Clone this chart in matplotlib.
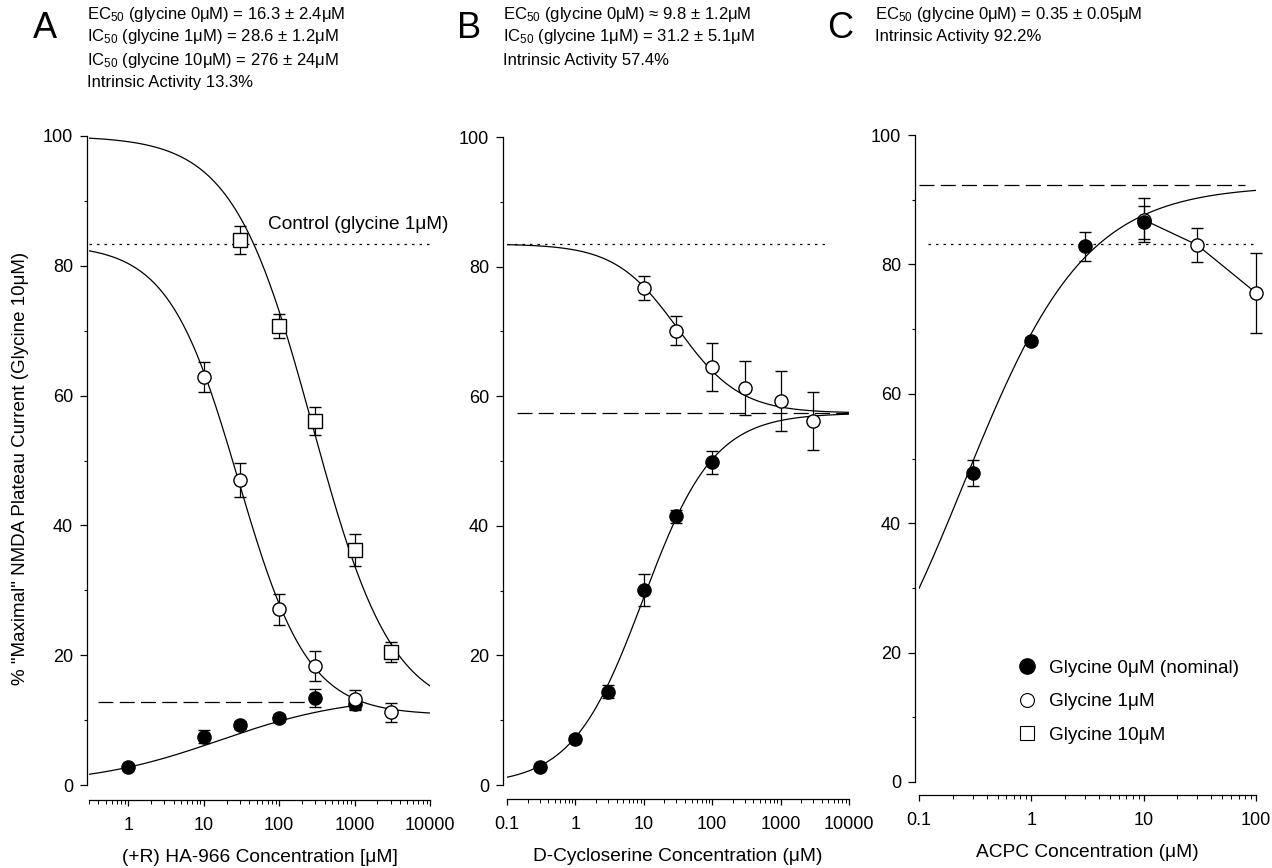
import numpy as np
import matplotlib
matplotlib.use("Agg")
import matplotlib.pyplot as plt
from matplotlib.lines import Line2D
from matplotlib.ticker import FixedLocator, FuncFormatter, LogLocator, NullFormatter, MultipleLocator

plt.rcParams['font.family'] = ['Liberation Sans', 'DejaVu Sans']
plt.rcParams['mathtext.default'] = 'regular'

# ---------------- data ----------------
# Panel A : (+R) HA-966
A_x_gly0 = [1, 10, 30, 100, 300, 1000]
A_y_gly0 = [2.8, 7.4, 9.2, 10.3, 13.4, 12.5]
A_e_gly0 = [0.4, 1.0, 0.6, 0.6, 1.4, 1.0]
A_x_gly1 = [10, 30, 100, 300, 1000, 3000]
A_y_gly1 = [62.9, 47.0, 27.1, 18.4, 13.2, 11.2]
A_e_gly1 = [2.3, 2.6, 2.4, 2.3, 1.5, 1.5]
A_x_gly10 = [30, 100, 300, 1000, 3000]
A_y_gly10 = [84.0, 70.7, 56.1, 36.2, 20.5]
A_e_gly10 = [2.2, 1.9, 2.1, 2.5, 1.5]
# fitted logistic curves: (value at low conc, value at high conc, EC/IC50, hill, xmin, xmax)
A_fit_gly0 = (0.0, 13.8, 16.3, 0.5, 0.3, 1000)
A_fit_gly1 = (83.3, 10.8, 28.6, 0.94, 0.3, 10000)
A_fit_gly10 = (100.0, 10.8, 276, 0.82, 0.3, 10000)
A_control = 83.3
A_intrinsic = 12.8

# Panel B : D-Cycloserine
B_x_gly0 = [0.3, 1, 3, 10, 30, 100]
B_y_gly0 = [2.8, 7.1, 14.4, 30.1, 41.5, 49.8]
B_e_gly0 = [0.5, 0.5, 1.0, 2.5, 1.0, 1.8]
B_x_gly1 = [10, 30, 100, 300, 1000, 3000]
B_y_gly1 = [76.7, 70.1, 64.5, 61.3, 59.3, 56.2]
B_e_gly1 = [1.8, 2.2, 3.7, 4.2, 4.6, 4.5]
B_fit_gly0 = (0.0, 57.4, 9.8, 0.84, 0.1, 10000)
B_fit_gly1 = (83.5, 57.4, 31.2, 0.95, 0.1, 10000)
B_control = 83.5
B_intrinsic = 57.4

# Panel C : ACPC
C_x_gly0 = [0.3, 1, 3, 10]
C_y_gly0 = [47.8, 68.2, 82.8, 86.5]
C_e_gly0 = [2.0, 0.6, 2.2, 2.6]
C_x_gly1 = [10, 30, 100]
C_y_gly1 = [86.9, 83.0, 75.6]
C_e_gly1 = [3.4, 2.7, 6.2]
C_fit_gly0 = (0.0, 92.2, 0.25, 0.8, 0.1, 100)
C_control = 83.2
C_intrinsic = 92.2

A_xticks = [1, 10, 100, 1000, 10000]
B_xticks = [0.1, 1, 10, 100, 1000, 10000]
C_xticks = [0.1, 1, 10, 100]
yticks = [0, 20, 40, 60, 80, 100]

legend_labels = ["Glycine 0\u03bcM (nominal)", "Glycine 1\u03bcM", "Glycine 10\u03bcM"]

A_header = ["EC$_{50}$ (glycine 0\u03bcM) = 16.3 \u00b1 2.4\u03bcM",
            "IC$_{50}$ (glycine 1\u03bcM) = 28.6 \u00b1 1.2\u03bcM",
            "IC$_{50}$ (glycine 10\u03bcM) = 276 \u00b1 24\u03bcM",
            "Intrinsic Activity 13.3%"]
B_header = ["EC$_{50}$ (glycine 0\u03bcM) \u2248 9.8 \u00b1 1.2\u03bcM",
            "IC$_{50}$ (glycine 1\u03bcM) = 31.2 \u00b1 5.1\u03bcM",
            "Intrinsic Activity 57.4%"]
C_header = ["EC$_{50}$ (glycine 0\u03bcM) = 0.35 \u00b1 0.05\u03bcM",
            "Intrinsic Activity 92.2%"]

# ---------------- figure ----------------
W, H = 1272, 868
fig = plt.figure(figsize=(W / 100, H / 100), dpi=100)

def px_axes(l, r, t, b):
    return fig.add_axes([l / W, (H - b) / H, (r - l) / W, (b - t) / H])

LW = 0.9
MS = 9.5
CAP = 4.3
XLFS = 13.8

def hill(p):
    a, d, c, n, x0, x1 = p
    x = np.logspace(np.log10(x0), np.log10(x1), 300)
    return x, d + (a - d) / (1 + (x / c) ** n)

def eb(ax, x, y, e, marker, fc, line=False):
    ax.errorbar(x, y, yerr=e, fmt=marker, ms=MS, mfc=fc, mec='black', mew=1.0,
                ecolor='black', elinewidth=LW, capsize=CAP, capthick=LW,
                ls='-' if line else 'none', color='black', lw=LW, zorder=3, clip_on=False)

def style(ax, xlim, xticks, yoff, boff):
    ax.set_xscale('log')
    ax.set_xlim(*xlim)
    ax.set_ylim(0, 100)
    for s in ['top', 'right']:
        ax.spines[s].set_visible(False)
    ax.spines['left'].set_position(('outward', yoff))
    ax.spines['bottom'].set_position(('outward', boff))
    for s in ['left', 'bottom']:
        ax.spines[s].set_linewidth(0.9)
    ax.xaxis.set_major_locator(FixedLocator(xticks))
    ax.xaxis.set_major_formatter(FuncFormatter(lambda v, p: '{:g}'.format(v)))
    ax.xaxis.set_minor_locator(LogLocator(base=10, subs=np.arange(2, 10), numticks=20))
    ax.xaxis.set_minor_formatter(NullFormatter())
    ax.yaxis.set_major_locator(FixedLocator(yticks))
    ax.yaxis.set_minor_locator(MultipleLocator(10))
    ax.tick_params(axis='y', which='major', direction='out', length=5, width=0.9, labelsize=13, pad=5)
    ax.tick_params(axis='y', which='minor', direction='out', length=2.5, width=0.8)
    ax.tick_params(axis='x', which='major', direction='out', length=4, width=0.9, labelsize=13, pad=8)
    ax.tick_params(axis='x', which='minor', direction='out', length=3, width=0.7)

# Panel A
axA = px_axes(89, 430, 136, 785)
style(axA, (0.3, 10000), A_xticks, 1.5, 10.8)
for p in (A_fit_gly0, A_fit_gly1, A_fit_gly10):
    xx, yy = hill(p)
    axA.plot(xx, yy, color='black', lw=LW, zorder=2)
axA.plot([0.3, 10000], [A_control, A_control], color='black', lw=LW, ls=(0, (2, 4)), zorder=1)
axA.plot([0.4, 300], [A_intrinsic, A_intrinsic], color='black', lw=LW, ls=(0, (12, 5)), zorder=1)
eb(axA, A_x_gly0, A_y_gly0, A_e_gly0, 'o', 'black')
eb(axA, A_x_gly1, A_y_gly1, A_e_gly1, 'o', 'white')
eb(axA, A_x_gly10, A_y_gly10, A_e_gly10, 's', 'white')
axA.text(71, 85.0, "Control (glycine 1\u03bcM)", fontsize=13.7, ha='left', va='bottom')
axA.set_xlabel("(+R) HA-966 Concentration [\u03bcM]", fontsize=XLFS, labelpad=11)
axA.set_ylabel('% "Maximal" NMDA Plateau Current (Glycine 10\u03bcM)', fontsize=13.5)
axA.yaxis.set_label_coords(-0.176, 0.488)

# Panel B
axB = px_axes(507, 849, 137, 785)
style(axB, (0.1, 10000), B_xticks, 3, 10)
for p in (B_fit_gly0, B_fit_gly1):
    xx, yy = hill(p)
    axB.plot(xx, yy, color='black', lw=LW, zorder=2)
axB.plot([0.1, 5000], [B_control, B_control], color='black', lw=LW, ls=(0, (2, 4)), zorder=1)
axB.plot([0.14, 10000], [B_intrinsic, B_intrinsic], color='black', lw=LW, ls=(0, (12, 5)), zorder=1)
eb(axB, B_x_gly0, B_y_gly0, B_e_gly0, 'o', 'black')
eb(axB, B_x_gly1, B_y_gly1, B_e_gly1, 'o', 'white')
axB.set_xlabel("D-Cycloserine Concentration (\u03bcM)", fontsize=XLFS, labelpad=11)

# Panel C
axC = px_axes(919, 1256, 135, 782)
style(axC, (0.1, 100), C_xticks, 3, 9.4)
xx, yy = hill(C_fit_gly0)
axC.plot(xx, yy, color='black', lw=LW, zorder=2)
axC.plot([0.1, 80], [C_intrinsic, C_intrinsic], color='black', lw=LW, ls=(0, (12, 5)), zorder=1)
axC.plot([0.12, 95], [C_control, C_control], color='black', lw=LW, ls=(0, (2, 4)), zorder=1)
eb(axC, C_x_gly1, C_y_gly1, C_e_gly1, 'o', 'white', line=True)
eb(axC, C_x_gly0, C_y_gly0, C_e_gly0, 'o', 'black')
axC.set_xlabel("ACPC Concentration (\u03bcM)", fontsize=XLFS, labelpad=11)

handles = [Line2D([], [], ls='none', marker='o', ms=11, mfc='black', mec='black'),
           Line2D([], [], ls='none', marker='o', ms=10, mfc='white', mec='black', mew=0.8),
           Line2D([], [], ls='none', marker='s', ms=9.5, mfc='white', mec='black', mew=0.8)]
axC.legend(handles, legend_labels, loc='upper left', bbox_to_anchor=(1008 / W, (H - 650) / H),
           bbox_transform=fig.transFigure, frameon=False, fontsize=13.7,
           handlelength=1.0, handletextpad=0.65, labelspacing=0.85, borderpad=0)

# headers
def header(letter, lx, tx, lines):
    fig.text(lx / W, 1 - 28 / H, letter, fontsize=26, ha='left', va='center')
    for i, s in enumerate(lines):
        fig.text(tx / W, 1 - (14 + 23 * i) / H, s, fontsize=12, ha='left', va='center')

header("A", 33, 87, A_header)
header("B", 457, 503, B_header)
header("C", 827, 875, C_header)

fig.savefig("out.png", dpi=100)
